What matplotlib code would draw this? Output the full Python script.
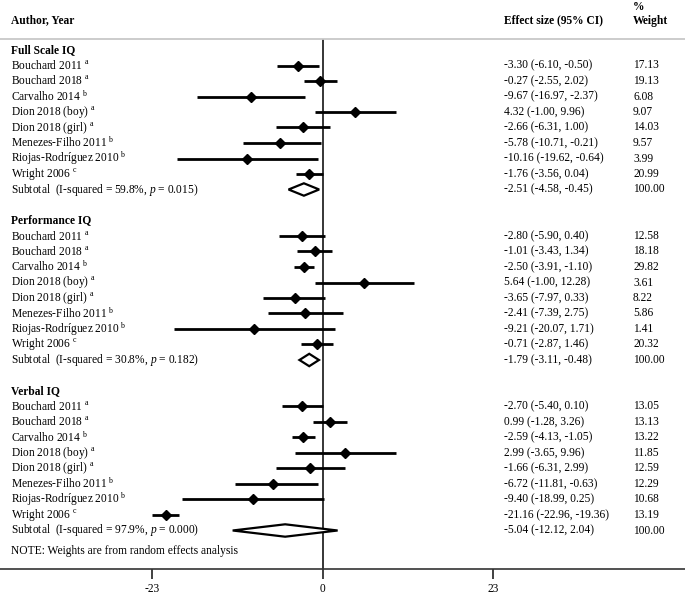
import matplotlib
matplotlib.use("Agg")
import matplotlib.pyplot as plt
from matplotlib.patches import Polygon
from matplotlib.transforms import blended_transform_factory

plt.rcParams['font.family'] = ['Liberation Serif', 'DejaVu Serif']
plt.rcParams['mathtext.fontset'] = 'custom'
plt.rcParams['mathtext.rm'] = 'Liberation Serif'
plt.rcParams['mathtext.it'] = 'Liberation Serif:italic'
plt.rcParams['mathtext.bf'] = 'Liberation Serif:bold'

# ---------------- data ----------------
studies = ["Bouchard 2011", "Bouchard 2018", "Carvalho 2014", "Dion 2018 (boy)",
           "Dion 2018 (girl)", "Menezes-Filho 2011", "Riojas-Rodríguez 2010", "Wright 2006"]
study_notes = ["a", "a", "b", "a", "a", "b", "b", "c"]

group_names = ["Full Scale IQ", "Performance IQ", "Verbal IQ"]

fsiq_es = [-3.30, -0.27, -9.67, 4.32, -2.66, -5.78, -10.16, -1.76]
fsiq_lo = [-6.10, -2.55, -16.97, -1.00, -6.31, -10.71, -19.62, -3.56]
fsiq_hi = [-0.50, 2.02, -2.37, 9.96, 1.00, -0.21, -0.64, 0.04]
fsiq_w = [17.13, 19.13, 6.08, 9.07, 14.03, 9.57, 3.99, 20.99]

piq_es = [-2.80, -1.01, -2.50, 5.64, -3.65, -2.41, -9.21, -0.71]
piq_lo = [-5.90, -3.43, -3.91, -1.00, -7.97, -7.39, -20.07, -2.87]
piq_hi = [0.40, 1.34, -1.10, 12.28, 0.33, 2.75, 1.71, 1.46]
piq_w = [12.58, 18.18, 29.82, 3.61, 8.22, 5.86, 1.41, 20.32]

viq_es = [-2.70, 0.99, -2.59, 2.99, -1.66, -6.72, -9.40, -21.16]
viq_lo = [-5.40, -1.28, -4.13, -3.65, -6.31, -11.81, -18.99, -22.96]
viq_hi = [0.10, 3.26, -1.05, 9.96, 2.99, -0.63, 0.25, -19.36]
viq_w = [13.05, 13.13, 13.22, 11.85, 12.59, 12.29, 10.68, 13.19]

sub_es = [-2.51, -1.79, -5.04]
sub_lo = [-4.58, -3.11, -12.12]
sub_hi = [-0.45, -0.48, 2.04]
sub_isq = ["59.8%", "30.8%", "97.9%"]
sub_p = ["0.015", "0.182", "0.000"]

x_ticks = [-23, 0, 23]

groups = [
    (fsiq_es, fsiq_lo, fsiq_hi, fsiq_w),
    (piq_es, piq_lo, piq_hi, piq_w),
    (viq_es, viq_lo, viq_hi, viq_w),
]

# ---------------- figure ----------------
W, H = 685, 595
fig = plt.figure(figsize=(W / 100, H / 100), dpi=100)
ax_top_px, ax_bot_px = 38.5, 569.0
ax = fig.add_axes([0, (H - ax_bot_px) / H, 1, (ax_bot_px - ax_top_px) / H])

row0_px, row_h = 50.0, 15.5
def px2row(p):
    return (p - row0_px) / row_h

ax.set_ylim(px2row(ax_bot_px), px2row(ax_top_px))
x0_px, unit_px = 322.5, 7.413
ax.set_xlim((0 - x0_px) / unit_px, (W - x0_px) / unit_px)

for s in ["left", "right"]:
    ax.spines[s].set_visible(False)
ax.spines["top"].set_color("#c8c8c8")
ax.spines["top"].set_linewidth(1.3)
ax.spines["bottom"].set_color("#333333")
ax.spines["bottom"].set_linewidth(1.2)
ax.set_yticks([])
ax.set_xticks(x_ticks)
ax.set_xticklabels([str(t) for t in x_ticks])
ax.tick_params(axis="x", direction="out", length=7, width=1.3, color="#333333",
               labelsize=8.3, pad=3)

ax.axvline(0, color="black", lw=1.1, zorder=1)

fs = 8.3
tx = blended_transform_factory(fig.transFigure, ax.transData)
col_name = 11 / W
col_es = 504 / W
col_w = 633 / W

# headers
ax.text(col_name, px2row(20), "Author, Year", transform=tx, fontsize=fs, fontweight="bold",
        va="center", ha="left", clip_on=False)
ax.text(col_es, px2row(20.5), "Effect size (95% CI)", transform=tx, fontsize=fs,
        fontweight="bold", va="center", ha="left", clip_on=False)
ax.text(col_w, px2row(21), "Weight", transform=tx, fontsize=fs, fontweight="bold",
        va="center", ha="left", clip_on=False)
ax.text(col_w, px2row(7.5), "%", transform=tx, fontsize=fs, fontweight="bold",
        va="center", ha="left", clip_on=False)

row = 0
for gi, (es, lo, hi, w) in enumerate(groups):
    ax.text(col_name, row, group_names[gi], transform=tx, fontsize=fs, fontweight="bold",
            va="center", ha="left")
    row += 1
    for i in range(len(studies)):
        ax.plot([lo[i], hi[i]], [row, row], color="black", lw=2.0, solid_capstyle="butt", zorder=3)
        ax.plot(es[i], row, marker="D", color="black", markersize=4.8, zorder=4)
        ax.text(col_name, row, studies[i] + r" $^{\mathrm{" + study_notes[i] + "}}$",
                transform=tx, fontsize=fs, va="center", ha="left")
        ax.text(col_es, row, f"{es[i]:.2f} ({lo[i]:.2f}, {hi[i]:.2f})", transform=tx,
                fontsize=fs, va="center", ha="left")
        ax.text(col_w, row, f"{w[i]:.2f}", transform=tx, fontsize=fs, va="center", ha="left")
        row += 1
    # subtotal diamond
    hh = 0.4
    diamond = Polygon([[sub_lo[gi], row], [sub_es[gi], row - hh], [sub_hi[gi], row],
                       [sub_es[gi], row + hh]], closed=True, facecolor="white",
                      edgecolor="black", lw=1.6, zorder=4)
    ax.add_patch(diamond)
    ax.text(col_name, row, "Subtotal  (I-squared = " + sub_isq[gi] + ", $p$ = " + sub_p[gi] + ")",
            transform=tx, fontsize=fs, va="center", ha="left")
    ax.text(col_es, row, f"{sub_es[gi]:.2f} ({sub_lo[gi]:.2f}, {sub_hi[gi]:.2f})", transform=tx,
            fontsize=fs, va="center", ha="left")
    ax.text(col_w, row, f"{100:.2f}", transform=tx, fontsize=fs, va="center", ha="left")
    row += 2

ax.text(col_name, px2row(551), "NOTE: Weights are from random effects analysis", transform=tx,
        fontsize=fs, va="center", ha="left")

fig.savefig("out.png", dpi=100)
